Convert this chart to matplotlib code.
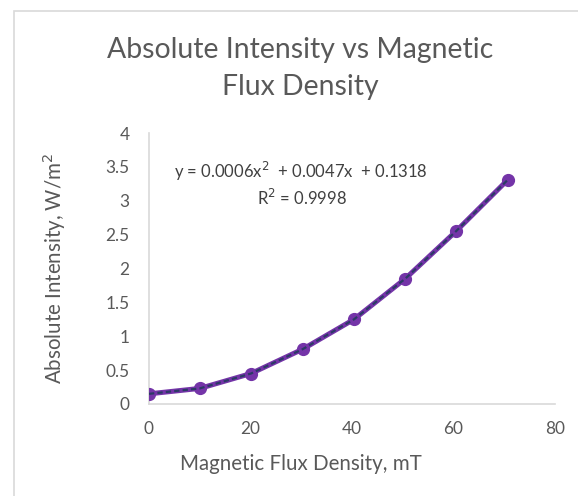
import matplotlib.pyplot as plt
from matplotlib.patches import Rectangle

plt.rcParams['font.family'] = ['Lato', 'DejaVu Sans']

# data
flux = [0, 10, 20.1, 30.3, 40.4, 50.5, 60.5, 70.7]
intensity = [0.15, 0.23, 0.45, 0.81, 1.25, 1.85, 2.55, 3.31]
eq_text = 'y = 0.0006x$^2$  + 0.0047x  + 0.1318'
r2_text = 'R$^2$ = 0.9998'
x_ticks = [0, 20, 40, 60, 80]
y_ticks = [0, 0.5, 1, 1.5, 2, 2.5, 3, 3.5, 4]
y_ticklabels = ['0', '0.5', '1', '1.5', '2', '2.5', '3', '3.5', '4']

W, H = 578, 496
fig = plt.figure(figsize=(W / 100, H / 100), dpi=100)
# chart area border (only left / top visible in the crop)
fig.patches.append(Rectangle((14 / W, -0.1), 1.2, 1 - 11 / H + 0.1, transform=fig.transFigure,
                             fill=False, edgecolor='#d9d9d9', linewidth=1.2))

ax = fig.add_axes([149 / W, 1 - 404 / H, (555 - 149) / W, (404 - 133) / H])

purple = '#7434a8'
ax.plot(flux, intensity, color=purple, lw=3.6, marker='o', ms=8.5, mec=purple, mfc=purple, zorder=3)
# polynomial trendline (dashed, on top)
ax.plot(flux, intensity, color='#2c3a66', lw=1.6, ls=(0, (2.4, 1.4)), zorder=4)

ax.set_xlim(0, 80)
ax.set_ylim(0, 4)
ax.set_xticks(x_ticks)
ax.set_yticks(y_ticks)
ax.set_yticklabels(y_ticklabels)
ax.tick_params(length=0, colors='#595959', labelsize=12.4)
ax.tick_params(axis='x', pad=12)
ax.tick_params(axis='y', pad=14)
for s in ['top', 'right']:
    ax.spines[s].set_visible(False)
for s in ['left', 'bottom']:
    ax.spines[s].set_color('#d9d9d9')
    ax.spines[s].set_linewidth(1.2)

ax.set_xlabel('Magnetic Flux Density, mT', fontsize=14.8, color='#595959')
ax.set_ylabel('Absolute Intensity, W/m$^2$', fontsize=14.8, color='#595959')
ax.xaxis.set_label_coords(0.375, -0.185)
ax.yaxis.set_label_coords(-0.199, 0.5)

fig.text(301 / W, 1 - 178 / H, eq_text, ha='center', va='baseline', fontsize=12, color='#404040')
fig.text(302 / W, 1 - 205 / H, r2_text, ha='center', va='baseline', fontsize=12, color='#404040')

fig.text(300 / W, 1 - 58 / H, 'Absolute Intensity vs Magnetic', ha='center', va='baseline',
         fontsize=20.4, color='#595959')
fig.text(300 / W, 1 - 95 / H, 'Flux Density', ha='center', va='baseline',
         fontsize=20.4, color='#595959')

fig.savefig('out.png', dpi=100)
